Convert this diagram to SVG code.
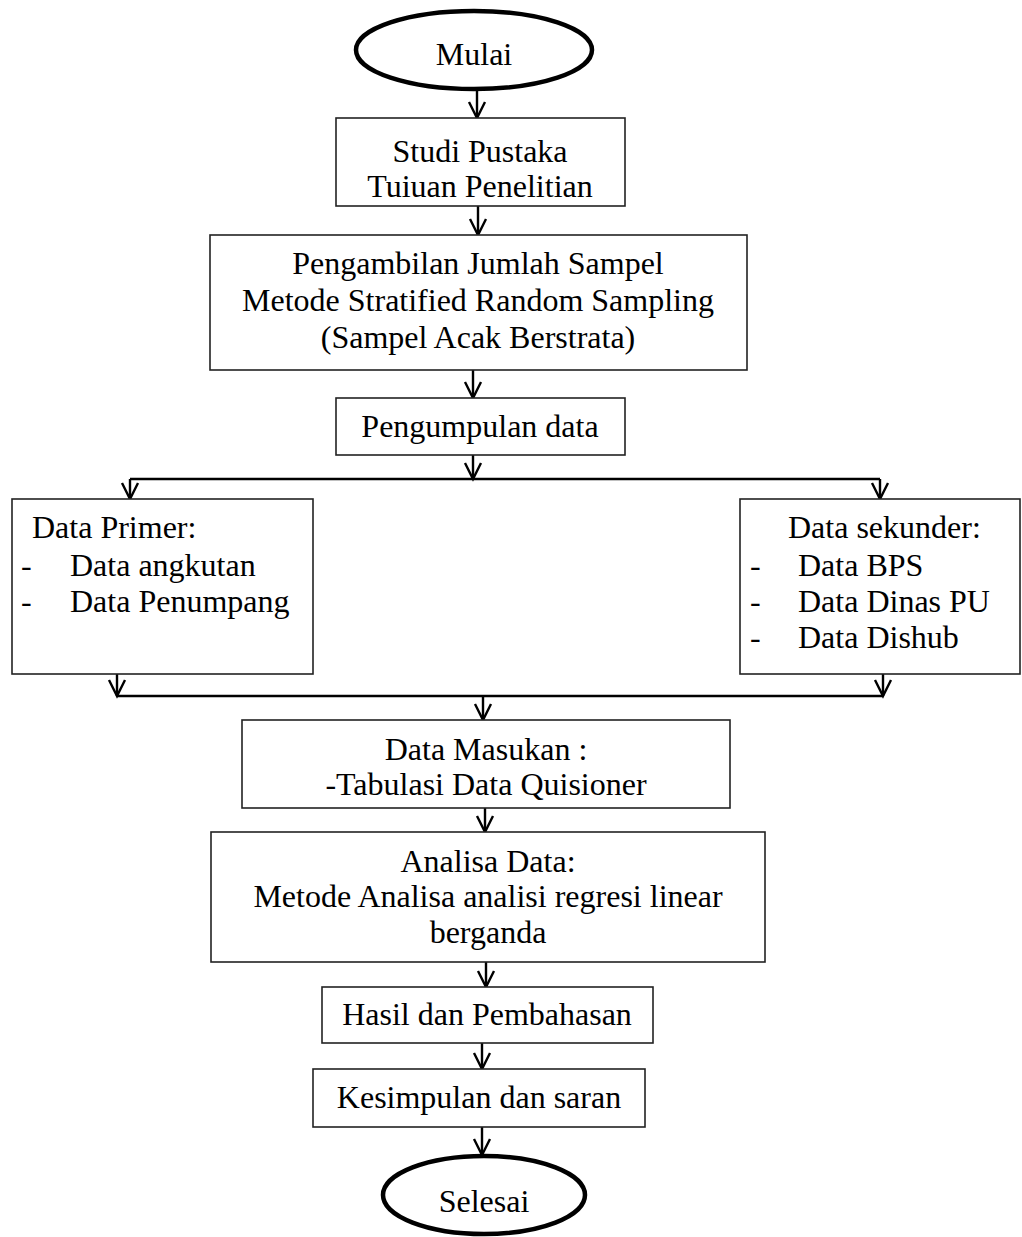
<svg xmlns="http://www.w3.org/2000/svg" width="1022" height="1237" viewBox="0 0 1022 1237">
<style>
  .box { fill: #ffffff; stroke: #222222; stroke-width: 1.6; }
  .term { fill: #ffffff; stroke: #000000; stroke-width: 4.5; }
  .t { font-family: "Liberation Serif", "Times New Roman", serif; font-size: 32px; fill: #000000; }
  .c { text-anchor: middle; }
  .conn { fill: none; stroke: #000000; stroke-width: 2.4; }
</style>
<defs>
  <marker id="arr" viewBox="-20 -12 24 24" refX="0" refY="0" markerWidth="24" markerHeight="24" markerUnits="userSpaceOnUse" orient="auto" overflow="visible">
    <path d="M-16,-8 L0,0 L-16,8" fill="none" stroke="#000000" stroke-width="2.4" stroke-linejoin="miter"/>
  </marker>
</defs>
<rect width="1022" height="1237" fill="#ffffff"/>

<g id="connectors">
  <line class="conn" x1="477" y1="90" x2="477" y2="118" marker-end="url(#arr)"/>
  <line class="conn" x1="478" y1="206" x2="478" y2="235" marker-end="url(#arr)"/>
  <line class="conn" x1="473" y1="370" x2="473" y2="398" marker-end="url(#arr)"/>
  <line class="conn" x1="473" y1="455" x2="473" y2="479" marker-end="url(#arr)"/>
  <line class="conn" x1="130" y1="479" x2="880" y2="479"/>
  <line class="conn" x1="130" y1="479" x2="130" y2="499" marker-end="url(#arr)"/>
  <line class="conn" x1="880" y1="479" x2="880" y2="499" marker-end="url(#arr)"/>
  <line class="conn" x1="117" y1="674" x2="117" y2="696" marker-end="url(#arr)"/>
  <line class="conn" x1="883" y1="674" x2="883" y2="696" marker-end="url(#arr)"/>
  <line class="conn" x1="117" y1="696" x2="883" y2="696"/>
  <line class="conn" x1="483" y1="696" x2="483" y2="720" marker-end="url(#arr)"/>
  <line class="conn" x1="485" y1="808" x2="485" y2="832" marker-end="url(#arr)"/>
  <line class="conn" x1="486" y1="962" x2="486" y2="987" marker-end="url(#arr)"/>
  <line class="conn" x1="482" y1="1043" x2="482" y2="1069" marker-end="url(#arr)"/>
  <line class="conn" x1="482" y1="1127" x2="482" y2="1155" marker-end="url(#arr)"/>
</g>

<g id="mulai">
  <ellipse class="term" cx="474" cy="50" rx="118" ry="39"/>
  <text class="t c" x="474" y="65">Mulai</text>
</g>

<g id="studi-pustaka">
  <rect class="box" x="336" y="118" width="289" height="88"/>
  <text class="t c" x="480" y="162">Studi Pustaka</text>
  <text class="t c" x="480" y="197">Tuiuan Penelitian</text>
</g>

<g id="pengambilan-sampel">
  <rect class="box" x="210" y="235" width="537" height="135"/>
  <text class="t c" x="478" y="274">Pengambilan Jumlah Sampel</text>
  <text class="t c" x="478" y="311">Metode Stratified Random Sampling</text>
  <text class="t c" x="478" y="348">(Sampel Acak Berstrata)</text>
</g>

<g id="pengumpulan-data">
  <rect class="box" x="336" y="398" width="289" height="57"/>
  <text class="t c" x="480" y="437">Pengumpulan data</text>
</g>

<g id="data-primer">
  <rect class="box" x="12" y="499" width="301" height="175"/>
  <text class="t" x="32" y="538">Data Primer:</text>
  <text class="t" x="21" y="576">-</text>
  <text class="t" x="70" y="576">Data angkutan</text>
  <text class="t" x="21" y="612">-</text>
  <text class="t" x="70" y="612">Data Penumpang</text>
</g>

<g id="data-sekunder">
  <rect class="box" x="740" y="499" width="280" height="175"/>
  <text class="t" x="788" y="538">Data sekunder:</text>
  <text class="t" x="750" y="576">-</text>
  <text class="t" x="798" y="576">Data BPS</text>
  <text class="t" x="750" y="612">-</text>
  <text class="t" x="798" y="612">Data Dinas PU</text>
  <text class="t" x="750" y="648">-</text>
  <text class="t" x="798" y="648">Data Dishub</text>
</g>

<g id="data-masukan">
  <rect class="box" x="242" y="720" width="488" height="88"/>
  <text class="t c" x="486" y="760">Data Masukan :</text>
  <text class="t c" x="486" y="795">-Tabulasi Data Quisioner</text>
</g>

<g id="analisa-data">
  <rect class="box" x="211" y="832" width="554" height="130"/>
  <text class="t c" x="488" y="872">Analisa Data:</text>
  <text class="t c" x="488" y="907">Metode Analisa analisi regresi linear</text>
  <text class="t c" x="488" y="943">berganda</text>
</g>

<g id="hasil">
  <rect class="box" x="322" y="987" width="331" height="56"/>
  <text class="t c" x="487" y="1025">Hasil dan Pembahasan</text>
</g>

<g id="kesimpulan">
  <rect class="box" x="313" y="1069" width="332" height="58"/>
  <text class="t c" x="479" y="1108">Kesimpulan dan saran</text>
</g>

<g id="selesai">
  <ellipse class="term" cx="484" cy="1195" rx="101" ry="39"/>
  <text class="t c" x="484" y="1212">Selesai</text>
</g>
</svg>
